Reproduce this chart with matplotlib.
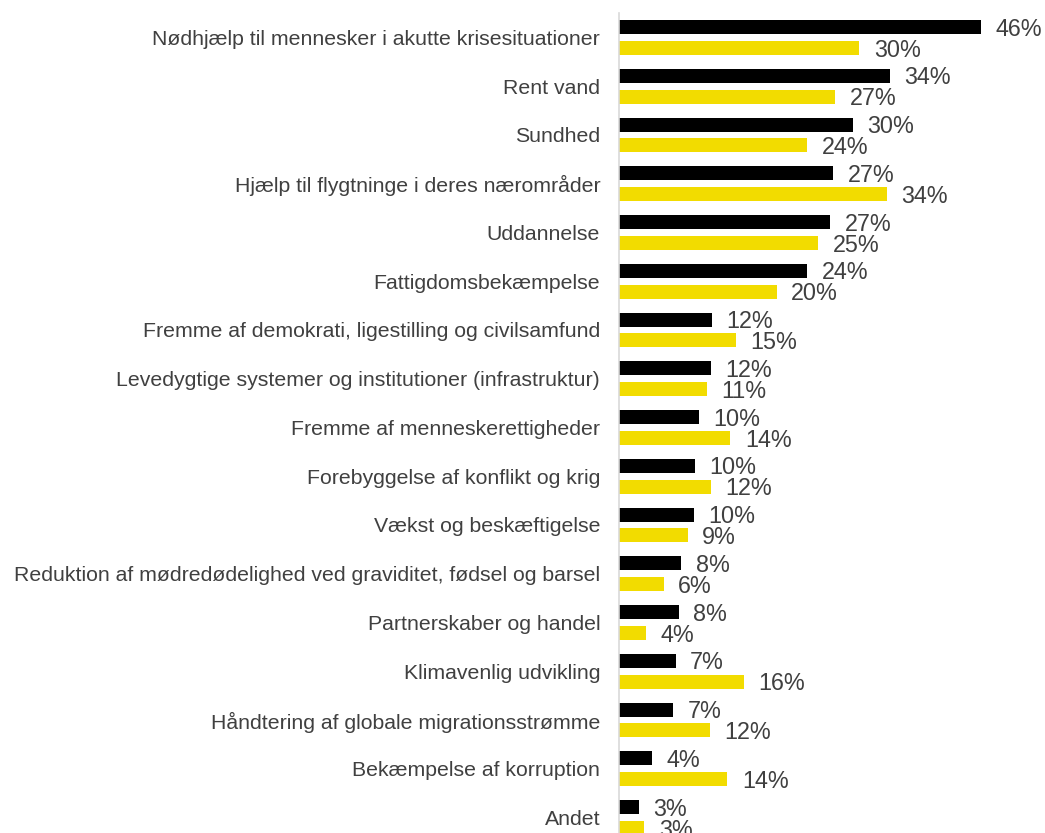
import matplotlib
matplotlib.use("Agg")
import matplotlib.pyplot as plt
import numpy as np

plt.rcParams['font.family'] = ['Liberation Sans', 'DejaVu Sans']

categories = [
    "Nødhjælp til mennesker i akutte krisesituationer",
    "Rent vand",
    "Sundhed",
    "Hjælp til flygtninge i deres nærområder",
    "Uddannelse",
    "Fattigdomsbekæmpelse",
    "Fremme af demokrati, ligestilling og civilsamfund",
    "Levedygtige systemer og institutioner (infrastruktur)",
    "Fremme af menneskerettigheder",
    "Forebyggelse af konflikt og krig",
    "Vækst og beskæftigelse",
    "Reduktion af mødredødelighed ved graviditet, fødsel og barsel",
    "Partnerskaber og handel",
    "Klimavenlig udvikling",
    "Håndtering af globale migrationsstrømme",
    "Bekæmpelse af korruption",
    "Andet",
]
# bar lengths (percent), labels as printed
black_vals = [46.1, 34.5, 29.8, 27.3, 26.9, 24.0, 11.8, 11.7, 10.2, 9.7, 9.5,
              7.9, 7.6, 7.2, 6.9, 4.2, 2.5]
yellow_vals = [30.6, 27.5, 24.0, 34.1, 25.4, 20.1, 14.9, 11.2, 14.2, 11.7, 8.75,
               5.7, 3.4, 15.9, 11.6, 13.8, 3.2]
black_labels = ["46%", "34%", "30%", "27%", "27%", "24%", "12%", "12%", "10%",
                "10%", "10%", "8%", "8%", "7%", "7%", "4%", "3%"]
yellow_labels = ["30%", "27%", "24%", "34%", "25%", "20%", "15%", "11%", "14%",
                 "12%", "9%", "6%", "4%", "16%", "12%", "14%", "3%"]

BLACK = "#000000"
YELLOW = "#F2DC00"
TEXT = "#404040"

W, H = 1045, 833
fig = plt.figure(figsize=(W / 100, H / 100), dpi=100)
ax = fig.add_axes([619 / W, 0, 1 - 619 / W, (833 - 13) / H])

y = np.arange(len(categories))
h = 0.287
off = 0.215
ax.barh(y - off, black_vals, height=h, color=BLACK)
ax.barh(y + off, yellow_vals, height=h, color=YELLOW)

for yi, v, lab in zip(y, black_vals, black_labels):
    ax.annotate(lab, (v, yi - off), xytext=(10.5, -1.5), textcoords="offset points",
                ha="left", va="center", fontsize=16.8, color=TEXT,
                annotation_clip=False)
for yi, v, lab in zip(y, yellow_vals, yellow_labels):
    ax.annotate(lab, (v, yi + off), xytext=(10.5, -1.5), textcoords="offset points",
                ha="left", va="center", fontsize=16.8, color=TEXT,
                annotation_clip=False)

ax.set_xlim(0, (W - 619) / 7.85)
ax.set_ylim(16 + (833 - 817.5) / 48.75, -(37.5 - 13) / 48.75)
ax.set_yticks(y)
ax.set_yticklabels(categories, fontsize=15.3, color=TEXT)
ax.tick_params(axis="y", length=0, pad=13.5)
ax.set_xticks([])
for s in ["top", "right", "bottom"]:
    ax.spines[s].set_visible(False)
ax.spines["left"].set_color("#d9d9d9")
ax.spines["left"].set_linewidth(1.2)

fig.savefig("out.png", dpi=100)
